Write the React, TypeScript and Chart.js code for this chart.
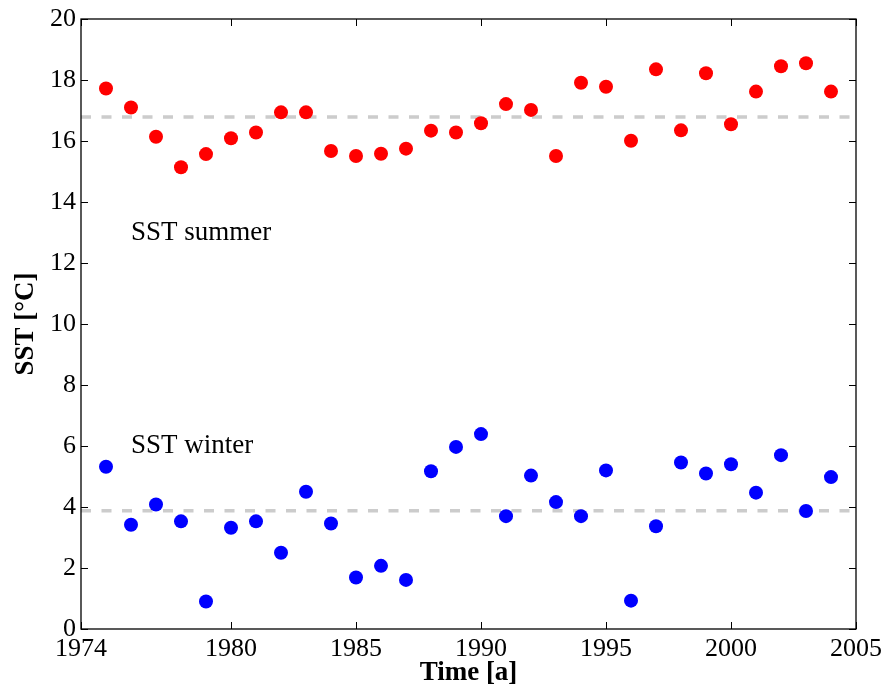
import React, { useEffect, useRef } from "react";
import { Chart, registerables } from "chart.js";

Chart.register(...registerables);

// ---- data ----
const years = [
  1975, 1976, 1977, 1978, 1979, 1980, 1981, 1982, 1983, 1984,
  1985, 1986, 1987, 1988, 1989, 1990, 1991, 1992, 1993, 1994,
  1995, 1996, 1997, 1998, 1999, 2000, 2001, 2002, 2003, 2004,
];
const summerSST = [
  17.72, 17.1, 16.14, 15.14, 15.57, 16.09, 16.28, 16.94, 16.94, 15.67,
  15.51, 15.58, 15.75, 16.34, 16.28, 16.58, 17.21, 17.02, 15.51, 17.91,
  17.78, 16.01, 18.35, 16.35, 18.22, 16.55, 17.62, 18.45, 18.55, 17.62,
];
const winterSST = [
  5.32, 3.42, 4.08, 3.53, 0.9, 3.32, 3.53, 2.5, 4.5, 3.46,
  1.69, 2.07, 1.61, 5.17, 5.97, 6.39, 3.7, 5.03, 4.16, 3.7,
  5.2, 0.93, 3.37, 5.46, 5.1, 5.4, 4.47, 5.7, 3.87, 4.98,
];
const summerMean = 16.79;
const winterMean = 3.88;
const xRange = [1974, 2005];
const yRange = [0, 20];
const xTickValues = [1974, 1980, 1985, 1990, 1995, 2000, 2005];
const yTickStep = 2;
const summerLabel = "SST summer";
const winterLabel = "SST winter";
const summerLabelAt = [1976, 13];
const winterLabelAt = [1976, 6];
const xTitle = "Time [a]";
const yTitle = "SST [°C]";

const SERIF = '"Liberation Serif", "Times New Roman", serif';

const framePlugin = {
  id: "frameAndText",
  afterDatasetsDraw(chart: any) {
    const { ctx, chartArea, scales } = chart;
    const { left, right, top, bottom } = chartArea;
    const x = scales.x;
    const y = scales.y;
    ctx.save();
    ctx.strokeStyle = "#000";
    ctx.lineWidth = 1.3;
    ctx.strokeRect(left, top, right - left, bottom - top);
    const tl = 7;
    ctx.beginPath();
    x.ticks.forEach((t: any) => {
      const px = Math.round(x.getPixelForValue(t.value)) + 0.5;
      ctx.moveTo(px, bottom);
      ctx.lineTo(px, bottom - tl);
      ctx.moveTo(px, top);
      ctx.lineTo(px, top + tl);
    });
    y.ticks.forEach((t: any) => {
      const py = Math.round(y.getPixelForValue(t.value)) + 0.5;
      ctx.moveTo(left, py);
      ctx.lineTo(left + tl, py);
      ctx.moveTo(right, py);
      ctx.lineTo(right - tl, py);
    });
    ctx.lineWidth = 1;
    ctx.stroke();

    ctx.fillStyle = "#000";
    ctx.font = `27px ${SERIF}`;
    ctx.textAlign = "left";
    ctx.textBaseline = "middle";
    ctx.fillText(
      summerLabel,
      x.getPixelForValue(summerLabelAt[0]),
      y.getPixelForValue(summerLabelAt[1])
    );
    ctx.fillText(
      winterLabel,
      x.getPixelForValue(winterLabelAt[0]),
      y.getPixelForValue(winterLabelAt[1])
    );
    ctx.restore();
  },
};

export default function App() {
  const canvasRef = useRef<HTMLCanvasElement | null>(null);

  useEffect(() => {
    if (!canvasRef.current) return;
    const dashStyle = {
      type: "line" as const,
      showLine: true,
      borderColor: "#cccccc",
      borderWidth: 3.5,
      borderDash: [10, 10.5],
      pointRadius: 0,
      pointHoverRadius: 0,
      fill: false,
      order: 2,
    };
    const chart = new Chart(canvasRef.current, {
      type: "scatter",
      data: {
        datasets: [
          {
            ...dashStyle,
            label: "summer mean",
            data: xRange.map((v) => ({ x: v, y: summerMean })),
          },
          {
            ...dashStyle,
            label: "winter mean",
            data: xRange.map((v) => ({ x: v, y: winterMean })),
          },
          {
            label: summerLabel,
            data: years.map((yr, i) => ({ x: yr, y: summerSST[i] })),
            backgroundColor: "#ff0000",
            borderWidth: 0,
            pointRadius: 7,
            order: 1,
          },
          {
            label: winterLabel,
            data: years.map((yr, i) => ({ x: yr, y: winterSST[i] })),
            backgroundColor: "#0000ff",
            borderWidth: 0,
            pointRadius: 7,
            order: 1,
          },
        ],
      } as any,
      options: {
        responsive: false,
        animation: false,
        layout: { padding: { left: 0, top: 19, right: 25, bottom: 0 } },
        plugins: {
          legend: { display: false },
          tooltip: { enabled: false },
        },
        scales: {
          x: {
            type: "linear",
            min: xRange[0],
            max: xRange[1],
            grid: { display: false, drawTicks: false },
            border: { display: false },
            afterBuildTicks: (scale: any) => {
              scale.ticks = xTickValues.map((v) => ({ value: v }));
            },
            afterFit: (scale: any) => {
              scale.height = 60;
              scale.paddingLeft = 0;
              scale.paddingRight = 0;
            },
            ticks: {
              color: "#000",
              padding: 5,
              maxRotation: 0,
              autoSkip: false,
              font: { family: SERIF, size: 26 },
              callback: (v: any) => String(v),
            },
            title: {
              display: true,
              text: xTitle,
              color: "#000",
              font: { family: SERIF, size: 27, weight: "bold" },
              padding: { top: 0, bottom: 0 },
            },
          },
          y: {
            type: "linear",
            min: yRange[0],
            max: yRange[1],
            grid: { display: false, drawTicks: false },
            border: { display: false },
            afterFit: (scale: any) => {
              scale.width = 81;
              scale.paddingTop = 0;
              scale.paddingBottom = 0;
            },
            ticks: {
              color: "#000",
              padding: 5,
              stepSize: yTickStep,
              font: { family: SERIF, size: 26 },
              callback: (v: any) => String(v),
            },
            title: {
              display: true,
              text: yTitle,
              color: "#000",
              font: { family: SERIF, size: 27, weight: "bold" },
              padding: { top: 10, bottom: 0 },
            },
          },
        },
      } as any,
      plugins: [framePlugin],
    });
    return () => chart.destroy();
  }, []);

  return (
    <div style={{ position: "absolute", left: 0, top: 0, width: 881, height: 689, background: "#fff" }}>
      <canvas ref={canvasRef} width={881} height={689} style={{ display: "block" }} />
    </div>
  );
}
